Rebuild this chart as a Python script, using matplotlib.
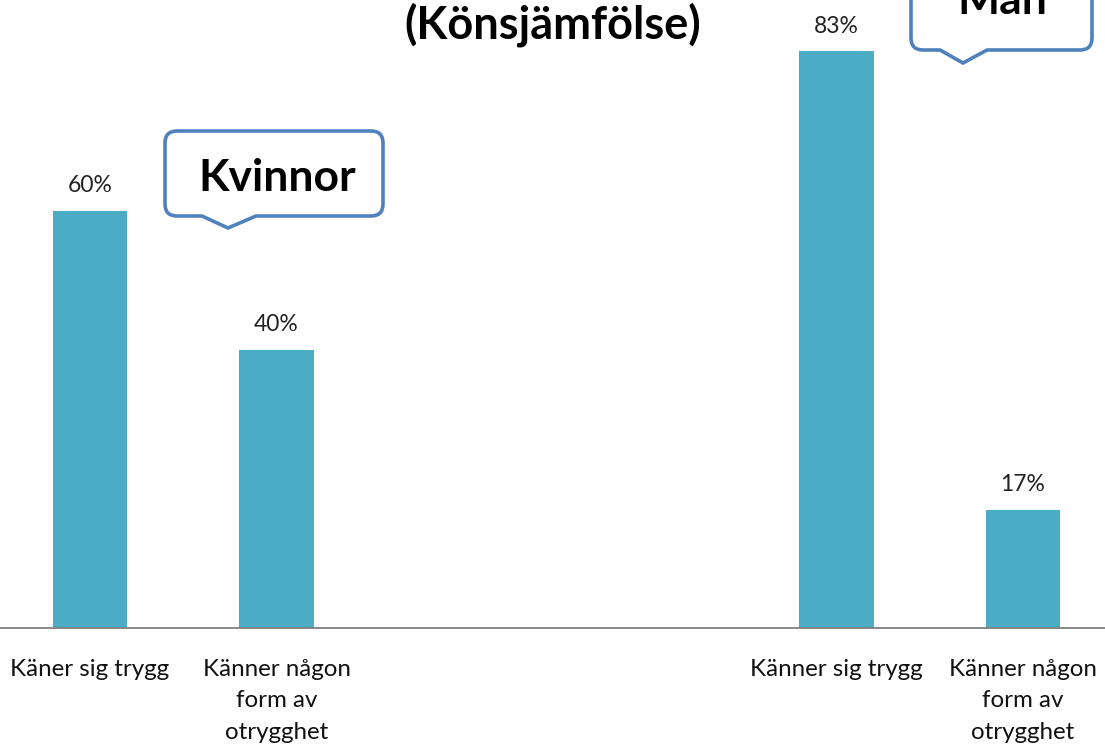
import matplotlib
matplotlib.use("Agg")
import matplotlib.pyplot as plt
from matplotlib.path import Path
from matplotlib.patches import PathPatch
from matplotlib.transforms import Affine2D

categories = ["Käner sig trygg", "Känner någon\nform av\notrygghet", "", "",
              "Känner sig trygg", "Känner någon\nform av\notrygghet"]
values = [60, 40, None, None, 83, 17]
title = "(Könsjämfölse)"
callout_labels = ["Kvinnor", "Män"]

W, H = 1105, 745
fig = plt.figure(figsize=(W / 100, H / 100), dpi=100)
plt.rcParams['font.family'] = ['Lato', 'DejaVu Sans']

# axes placement (pixel based)
ax = fig.add_axes([0, 117 / H, 1, 1 - 117 / H])
bar_color = "#4BACC6"
xs = list(range(len(categories)))
for x, v in zip(xs, values):
    if v is None:
        continue
    ax.bar(x, v, width=0.4, color=bar_color)
    ax.text(x, v + 3.6, f"{v}%", ha="center", va="center", fontsize=16.5, color="#222222")

unit = 186.6
ax.set_xlim(-90 / unit, (W - 90) / unit)
ax.set_ylim(0, 628 / 6.95)
ax.set_xticks(xs)
ax.set_xticklabels(categories, fontsize=17.4, linespacing=1.62, color="#111111")
ax.tick_params(axis="x", length=0, pad=22)
ax.set_yticks([])
for s in ["top", "right", "left"]:
    ax.spines[s].set_visible(False)
ax.spines["bottom"].set_color("#808080")
ax.spines["bottom"].set_linewidth(1.3)

# pixel (from top-left) -> figure transform
pix = Affine2D().scale(1 / W, -1 / H).translate(0, 1) + fig.transFigure


def callout(x0, y0, x1, y1, p0, p1, tx, ty, r=12):
    verts = [
        (x0 + r, y0), (x1 - r, y0), (x1, y0), (x1, y0 + r),
        (x1, y1 - r), (x1, y1), (x1 - r, y1),
        (p1, y1), (tx, ty), (p0, y1),
        (x0 + r, y1), (x0, y1), (x0, y1 - r),
        (x0, y0 + r), (x0, y0), (x0 + r, y0), (x0 + r, y0),
    ]
    codes = [
        Path.MOVETO, Path.LINETO, Path.CURVE3, Path.CURVE3,
        Path.LINETO, Path.CURVE3, Path.CURVE3,
        Path.LINETO, Path.LINETO, Path.LINETO,
        Path.LINETO, Path.CURVE3, Path.CURVE3,
        Path.LINETO, Path.CURVE3, Path.CURVE3, Path.CLOSEPOLY,
    ]
    p = PathPatch(Path(verts, codes), facecolor="white", edgecolor="#4F81BD",
                  linewidth=2.6, transform=pix, zorder=5)
    fig.add_artist(p)


callout(165, 131, 383, 216, 202, 256, 228, 228)
fig.text(277 / W, 1 - 178 / H, callout_labels[0], ha="center", va="center",
         fontsize=32, fontweight="bold", zorder=6)
callout(911, -40, 1092, 50, 940, 987, 963, 63)
fig.text(1002 / W, 1 - 1 / H, callout_labels[1], ha="center", va="center",
         fontsize=32, fontweight="bold", zorder=6)

fig.text(553 / W, 1 - 25 / H, title, ha="center", va="center",
         fontsize=32.5, fontweight="bold")

fig.savefig("out.png", dpi=100)
